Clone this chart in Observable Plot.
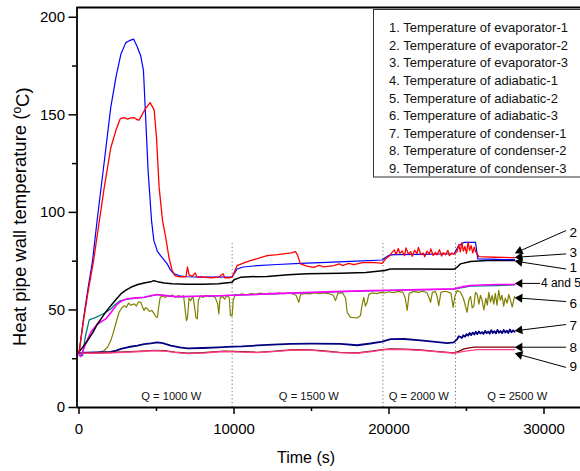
<!DOCTYPE html>
<html><head><meta charset="utf-8">
<script src="https://cdn.jsdelivr.net/npm/d3@7"></script>
<script src="https://cdn.jsdelivr.net/npm/@observablehq/plot@0.6"></script>
<style>body{margin:0;background:#fff}</style>
</head><body><div id="chart"></div>
<script>
// ---- data (time in s, temperature in °C) ----
const evap1 = [[0,28.6],[250,31],[550,34.3],[900,38.5],[1190,42.8],[1600,47.5],[2050,52.2],[2400,55.5],[2700,58.2],[3000,60],[3340,61.6],[3800,63],[4200,63.8],[4630,64.4],[4820,65],[5060,64.5],[5500,63.8],[6000,63.4],[6980,63.2],[8000,63.2],[9000,63.4],[9880,64.2],[10000,65.5],[10420,66.7],[11000,67],[12140,67.2],[13500,68],[14720,68.5],[16870,68.8],[18500,69.2],[19560,70.1],[19660,70.1],[20100,71],[22000,71],[24180,70.8],[24400,72],[24610,73.6],[25260,74.8],[26330,75.3],[28100,75.3]];
const evap2 = [[0,28],[300,45],[600,60],[935,75],[1300,95],[1630,112.8],[2050,133],[2370,141.8],[2660,148],[2910,148.6],[3130,147.8],[3350,148.4],[3560,148.6],[3720,147.6],[3880,147.3],[4100,150.5],[4310,153.4],[4590,156.3],[4850,152.4],[5000,138.4],[5170,112.8],[5390,95.7],[5600,87],[5800,77],[6000,70.5],[6200,67.5],[6500,67],[6900,67],[7000,72],[7100,68],[7300,67.2],[7500,69],[7600,67],[8000,66.8],[8500,66.5],[9000,66.8],[9300,68.5],[9400,66.5],[9700,66.5],[9880,66.8],[10000,69],[10200,72.7],[10600,74],[11060,75.3],[11600,76.5],[12140,77.8],[12800,78.3],[13430,79],[13700,79.2],[13970,79.9],[14100,78],[14290,73.6],[14700,72.5],[15150,71.8],[15500,72.8],[15800,72.1],[16440,72.7],[16800,73.6],[17000,72.7],[17400,73.9],[17730,73.2],[18300,74.2],[18810,74.4],[19300,74.1],[19560,73.9],[19770,76.1],[20000,77.5],[20200,79.5],[20350,80.8],[20450,78.2],[20600,81.5],[20700,79],[20850,80.2],[21000,77.8],[21100,81.8],[21250,78.6],[21400,79.9],[21500,77.5],[21650,80.6],[21800,78.9],[21900,82],[22050,78.4],[22200,79.2],[22300,77.2],[22450,80.1],[22600,78.6],[22700,81.3],[22850,77.9],[23000,79.5],[23100,78.2],[23250,80.9],[23400,77.6],[23500,79.4],[23650,78.3],[23800,80.5],[23900,77.8],[24050,79.2],[24180,78.5],[24400,80],[24500,83.5],[24600,79.8],[24700,84.5],[24800,80.2],[24900,82.5],[25000,79],[25100,84.8],[25200,80.5],[25300,83],[25400,79.2],[25500,82.2],[25580,80],[25800,77.3],[26200,77.2],[26800,77],[27400,76.9],[28100,76.8]];
const evap3 = [[0,28],[300,46],[600,62],[870,75],[1200,98],[1600,124],[2050,153.8],[2400,170],[2700,181],[3020,187],[3250,188],[3520,188.8],[3750,185],[3990,180],[4160,172.6],[4310,147],[4460,121],[4680,95.8],[4830,85.5],[5060,80],[5260,77.8],[5450,76],[5690,73.6],[5900,70.5],[6120,68.5],[6500,67.5],[6980,67],[8000,66.8],[9000,66.8],[9880,67],[10000,68.5],[10200,71],[10600,72],[11500,72.7],[12800,73.3],[14290,73.9],[16000,74.4],[17520,74.9],[19560,75.6],[19700,76.5],[20000,78],[20310,78.3],[22000,78.5],[24200,78.8],[24500,83],[24830,84.6],[25580,84.6],[25730,76.1],[26500,76],[27500,75.8],[28100,75.8]];
const adia1 = [[0,27],[120,26.1],[340,30.9],[760,38.6],[1190,42.8],[1730,45.4],[2160,49.7],[2480,53.1],[2800,54.8],[3130,55.7],[3700,56.2],[4200,56.5],[4600,57.3],[5060,57.9],[5700,57.2],[6350,56.8],[7500,57],[9000,57.3],[9880,57.5],[11000,57.8],[13000,58.5],[15000,59],[17000,59.5],[18810,59.9],[20100,60.1],[22000,60.4],[24180,60.8],[24700,61.8],[25260,62.5],[26000,62.8],[27000,63],[28100,63]];
const adia2 = [[0,28],[230,26.6],[400,36],[660,44.9],[1080,46.2],[1630,48.3],[2050,50.5],[2300,52.5],[2600,54.5],[3130,55.6],[4200,56.4],[5060,57.8],[6350,56.7],[9000,57.2],[13000,58.4],[17000,59.4],[20100,60],[24180,60.7],[25260,62.2],[26000,62.3],[27000,62.5],[28100,62.8]];
const adia3 = [[0,28],[500,27.8],[1000,28],[1300,28.3],[1630,29.2],[1850,31],[2050,34.3],[2200,38],[2370,42.8],[2500,46.5],[2590,48.8],[2750,51],[2920,52.2],[3050,51.3],[3200,53.5],[3350,52.4],[3560,53.1],[3700,52],[3850,54.2],[3990,53.9],[4100,51.5],[4200,49.7],[4300,51.2],[4420,50.5],[4550,49.2],[4700,49.8],[4850,48],[4960,46.5],[5060,46.2],[5150,52],[5240,56.5],[5400,57.2],[5550,56.3],[5700,57.5],[5850,56.8],[6000,57.6],[6200,56.5],[6400,57.3],[6600,56.8],[6750,57.2],[6850,50],[6930,44.5],[7000,46],[7100,56],[7210,54.8],[7350,57],[7450,52],[7540,46.2],[7630,45.4],[7700,55],[7850,57.2],[8000,56.4],[8200,57.5],[8400,56.8],[8600,57.3],[8800,56.2],[8950,53],[9020,48],[9100,56],[9250,57],[9400,55.5],[9550,57.5],[9700,56],[9770,47.1],[9880,47.1],[9950,55],[10100,58],[10300,57.6],[10500,58.3],[10800,57.8],[11100,58.4],[11400,58],[11700,58.6],[12000,58.1],[12300,58.7],[12600,58.2],[12900,58.8],[13200,58.3],[13500,58.6],[13800,58.2],[14000,57.5],[14180,53.9],[14300,58],[14600,58.5],[14900,58.2],[15200,58.8],[15500,58.3],[15800,58.7],[16100,58.4],[16400,57.5],[16550,54.8],[16700,58.5],[17000,58.9],[17200,56],[17300,48.8],[17520,46.2],[17750,46],[17950,45.9],[18160,47.1],[18250,52],[18370,56.5],[18480,52],[18590,53.9],[18700,58],[18900,58.7],[19200,58.4],[19500,59],[19700,58.7],[20000,59.3],[20300,58.9],[20600,59.5],[20900,59],[21050,56],[21170,49.7],[21300,58.5],[21600,59.5],[21900,59],[22200,59.6],[22450,58.8],[22600,56],[22680,53.9],[22800,59],[23000,59.4],[23100,57],[23210,52.2],[23350,59],[23600,59.6],[23850,59.1],[24000,58.5],[24140,51.3],[24250,57],[24400,60],[24600,59.2],[24800,56],[25040,48.8],[25150,55],[25260,57],[25370,51],[25470,52],[25580,59],[25690,58],[25800,53],[25900,57.5],[26000,55],[26120,50],[26250,56],[26340,52.5],[26440,59],[26550,54],[26660,57.5],[26760,53],[26860,58.5],[26970,52.5],[27080,60],[27180,55],[27290,57.5],[27400,52],[27500,56],[27620,53.5],[27730,58],[27850,54.5],[27950,51.5],[28100,57]];
const cond1 = [[0,28],[1000,28.2],[2050,28.5],[2400,29.2],[2700,30],[3200,31],[3770,31.7],[4200,32.5],[4630,32.9],[5060,33.4],[5400,33],[5920,31.7],[6500,30.8],[7000,30.3],[8000,30.5],[9000,30.8],[9880,31.2],[10500,31.3],[11500,31.8],[12500,32.2],[13650,32.6],[15000,32.7],[16870,32.6],[17950,31.9],[18800,32.8],[19560,33.8],[20100,35],[21000,35.1],[22030,34.4],[23000,33.6],[23750,33],[24180,33.4],[24400,35],[24500,36.5],[24610,36.2],[24700,35.6],[24800,37],[24900,36.3],[25000,37.6],[25100,36.8],[25200,38.2],[25300,37.1],[25400,38.4],[25500,37.4],[25600,38.8],[25700,37.6],[25800,39],[25900,37.9],[26000,38.6],[26100,37.7],[26200,39.3],[26300,38.1],[26400,38.9],[26500,37.8],[26600,39.6],[26700,38.2],[26800,39.1],[26900,38],[27000,39.8],[27100,38.3],[27200,39.2],[27300,38.1],[27400,39.7],[27500,38.4],[27600,39.4],[27700,38.2],[27800,40],[27900,38.5],[28000,39.5],[28100,38.8]];
const cond2 = [[0,28],[1000,28],[2000,28.2],[3000,28.5],[4000,28.9],[4850,29.3],[5500,29.1],[6200,28.4],[7000,27.8],[8000,28.1],[9340,28.9],[10500,28.6],[11500,28.3],[12500,28.8],[13650,29.5],[14720,29.7],[15800,29],[16800,28.3],[17950,28],[19000,29],[19560,29.7],[20100,30],[21000,29.9],[22030,29.5],[23000,28.8],[24180,28],[24500,28.8],[24830,30],[25470,30.9],[26500,30.9],[28100,30.9]];
const cond3 = [[0,27.8],[1000,27.8],[2000,28],[3000,28.3],[4000,28.7],[4850,29.1],[5500,28.9],[6200,28.2],[7000,27.6],[8000,27.9],[9340,28.7],[10500,28.4],[11500,28.1],[12500,28.6],[13650,29.3],[14720,29.5],[15800,28.8],[16800,28.1],[17950,27.8],[19000,28.8],[19560,29.5],[20100,29.8],[21000,29.7],[22030,29.3],[23000,28.6],[24180,27.8],[24500,28.2],[24830,28.8],[25690,29.7],[26500,29.7],[28100,29.7]];

const seriesOrder = [adia3, cond1, cond2, cond3, adia2, adia1, evap1, evap3, evap2];
const seriesColors = ["#808000", "#000080", "#800000", "#ff3d8b", "#008080", "#ff00ff", "#000000", "#0000ff", "#ff0000"];
const seriesWidths = [1.2, 1.8, 1.3, 1.3, 1.3, 1.6, 1.5, 1.2, 1.3];

const legendLabels = ["1. Temperature of evaporator-1","2. Temperature of evaporator-2","3. Temperature of evaporator-3","4. Temperature of adiabatic-1","5. Temperature of adiabatic-2","6. Temperature of adiabatic-3","7. Temperature of condenser-1","8. Temperature of condenser-2","9. Temperature of condenser-3"];

const powerSteps = [9880, 19610, 24290];
const powerLabels = ["Q = 1000 W","Q = 1500 W","Q = 2000 W","Q = 2500 W"];
const powerLabelX = [5950, 14830, 21920, 28270];

const annLabels = ["2","3","1","4 and 5","6","7","8","9"];
const annTextX = [31645,31645,31645,29800,31645,31645,31645,31645];
const annTextY = [89.8,79.5,71.5,63.6,53.4,42,30.9,21];
const annTailX = [31400,31400,31400,29720,31400,31400,31400,31400];
const annTailY = [90.6,78.7,71,63.6,54.3,42.5,30.9,20.6];
const annTipX = [28230,28230,28230,28230,28230,28230,28230,28230];
const annTipY = [79.5,77,74.9,63.6,56.2,39.4,30.9,27.5];

const xMajor = [0, 10000, 20000, 30000];
const xMinor = [5000, 15000, 25000];
const yMajor = [0, 50, 100, 150, 200];
const yMinor = [25, 75, 125, 175];

// ---- layout ----
const W = 580, H = 471, mL = 76.5, mR = 0, mT = 7, mB = 64;
const xDomain = [-129, 32355], yDomain = [0, 205];
const sx = Plot.scale({x: {domain: xDomain, range: [mL, W - mR]}});
const sy = Plot.scale({y: {domain: yDomain, range: [H - mB, mT]}});

const ann = annLabels.map((l, i) => {
  const px1 = sx.apply(annTailX[i]), py1 = sy.apply(annTailY[i]);
  const px2 = sx.apply(annTipX[i]), py2 = sy.apply(annTipY[i]);
  const dx = px2 - px1, dy = py2 - py1, len = Math.hypot(dx, dy);
  const ux = dx / len, uy = dy / len;
  const back = 3.2;
  return {
    label: l, tx: annTextX[i], ty: annTextY[i],
    x1: annTailX[i], y1: annTailY[i],
    x2: sx.invert(px2 - ux * 4), y2: sy.invert(py2 - uy * 4),
    hx: sx.invert(px2 - ux * back), hy: sy.invert(py2 - uy * back),
    rot: Math.atan2(dy, dx) * 180 / Math.PI + 90
  };
});

const lineMarks = seriesOrder.map((s, i) => Plot.line(s, {x: d => d[0], y: d => d[1], stroke: seriesColors[i], strokeWidth: seriesWidths[i], strokeLinejoin: "round"}));

const chart = Plot.plot({
  width: W, height: H, marginLeft: mL, marginRight: mR, marginTop: mT, marginBottom: mB,
  style: {fontFamily: "'Liberation Sans', Arial, sans-serif", background: "#fff", color: "#000"},
  x: {domain: xDomain},
  y: {domain: yDomain},
  marks: [
    Plot.ruleX(powerSteps, {y1: 0, y2: 85, stroke: "#777", strokeWidth: 1, strokeDasharray: "1.3,2.4"}),
    ...lineMarks,
    Plot.text(powerLabels, {x: (d, i) => powerLabelX[i], y: 5.6, text: d => d, fontSize: 11.2, fill: "#111"}),
    Plot.arrow(ann, {x1: "x1", y1: "y1", x2: "x2", y2: "y2", stroke: "#000", strokeWidth: 1, headLength: 0}),
    Plot.dot(ann, {x: "hx", y: "hy", symbol: "triangle", r: 3.3, fill: "#000", stroke: null, rotate: "rot"}),
    Plot.text(ann, {x: "tx", y: "ty", text: "label", textAnchor: "start", fontSize: (d) => d.label.length > 1 ? 12 : 13.5, fill: "#000"}),
    Plot.axisX(xMajor, {tickSize: 7, tickPadding: 9, fontSize: 15, strokeWidth: 1.5, label: null, tickFormat: d => String(d)}),
    Plot.axisX(xMinor, {tickSize: 4, text: null, strokeWidth: 1.5, label: null}),
    Plot.axisY(yMajor, {tickSize: 8, tickPadding: 4, fontSize: 15, strokeWidth: 1.5, label: null}),
    Plot.axisY(yMinor, {tickSize: 4.5, text: null, strokeWidth: 1.5, label: null}),
    Plot.ruleY([yDomain[1]], {stroke: "#000", strokeWidth: 2}),
    Plot.ruleY([0], {stroke: "#000", strokeWidth: 1.8}),
    Plot.ruleX([xDomain[0]], {stroke: "#000", strokeWidth: 1.8})
  ]
});

const svg = d3.select(chart);
// legend box
const lg = svg.append("g").attr("font-family", "'Liberation Sans', Arial, sans-serif").attr("text-anchor", "start");
lg.append("rect").attr("x", 373.5).attr("y", 9.5).attr("width", 240).attr("height", 167.5)
  .attr("fill", "#fff").attr("stroke", "#333").attr("stroke-width", 1);
legendLabels.forEach((t, i) => {
  lg.append("text").attr("x", 389).attr("y", 32.3 + i * 17.55).attr("font-size", 13).attr("fill", "#111").attr("text-anchor", "start").text(t);
});
// axis titles
svg.append("text").attr("x", 277).attr("y", 463).attr("font-size", 16).attr("text-anchor", "start")
  .attr("font-family", "'Liberation Sans', Arial, sans-serif").attr("fill", "#000").text("Time (s)");
const yl = svg.append("text").attr("transform", "translate(26,216.7) rotate(-90)").attr("text-anchor", "middle")
  .attr("font-size", 18.5).attr("font-family", "'Liberation Sans', Arial, sans-serif").attr("fill", "#000");
yl.append("tspan").text("Heat pipe wall temperature (");
yl.append("tspan").attr("font-size", 12).attr("dy", "-0.45em").text("o");
yl.append("tspan").attr("dy", "0.45em").text("C)");

document.getElementById("chart").appendChild(chart);
</script>
</body></html>
